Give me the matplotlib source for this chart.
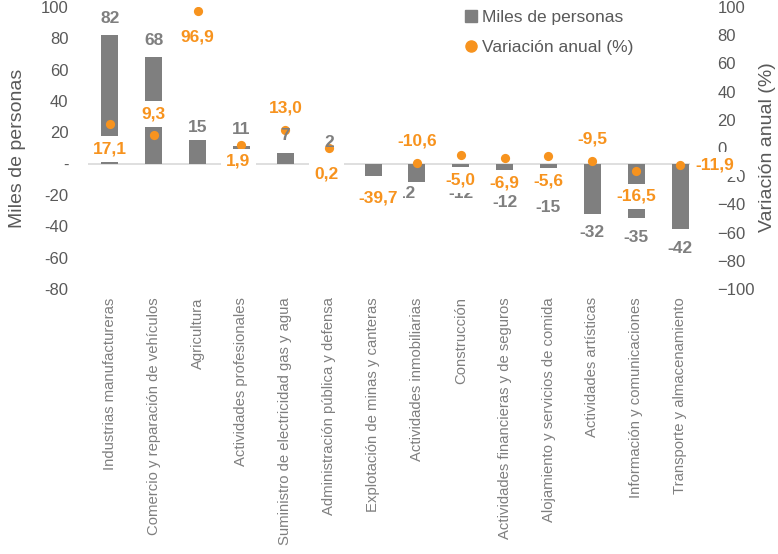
import matplotlib.pyplot as plt
from matplotlib.lines import Line2D

plt.rcParams['font.family'] = ['Liberation Sans', 'DejaVu Sans']

# Data
sectores = ["Industrias manufactureras", "Comercio y reparación de vehículos", "Agricultura",
            "Actividades profesionales", "Suministro de electricidad gas y agua",
            "Administración pública y defensa", "Explotación de minas y canteras",
            "Actividades inmobiliarias", "Construcción", "Actividades financieras y de seguros",
            "Alojamiento y servicios de comida", "Actividades artísticas",
            "Información y comunicaciones", "Transporte y almacenamiento"]
miles = [82, 68, 15, 11, 7, 2, -8, -12, -12, -12, -15, -32, -35, -42]
variacion = [17.1, 9.3, 96.9, 1.9, 13.0, 0.2, -39.7, -10.6, -5.0, -6.9, -5.6, -9.5, -16.5, -11.9]

# Label offsets in pixels (dx right, dy down), as placed in the original
gris_off = [(0, -17), (0, -17), (0, -13), (0, -17), (0, -17), (0, -18), (0, 17), (-14, 11),
            (0, 11), (0, 20), (0, 20), (0, 19), (0, 19), (0, 19)]
naranja_off = [(0, 25), (0, -21), (0, 26), (-3, 16), (0, -22), (-3, 26), (5, -6), (0, -22),
               (0, 25), (0, 25), (0, 25), (0, -22), (0, 25), (35, 0)]

gris = '#7F7F7F'
naranja = '#F7931E'
texto = '#595959'
pt = 0.72  # points per pixel at dpi 100

fig = plt.figure(figsize=(7.78, 5.54), dpi=100)
ax = fig.add_axes([88/778, 1 - 289/554, 614/778, 282/554])
ax2 = ax.twinx()

x = list(range(len(sectores)))
ax.axhline(0, color='#D9D9D9', lw=1.2, zorder=1)
ax.bar(x, miles, width=0.39, color=gris, zorder=2)
ax2.scatter(x, variacion, s=44, color=naranja, zorder=3, linewidths=0)

ax.set_xlim(-0.5, len(sectores) - 0.5)
ax.set_ylim(-80, 100)
ax2.set_ylim(-100, 100)

yt = list(range(-80, 101, 20))
ax.set_yticks(yt)
ax.set_yticklabels(['-' if v == 0 else str(v) for v in yt])
ax2.set_yticks(list(range(-100, 101, 20)))
ax.tick_params(axis='y', length=0, labelsize=12, labelcolor=texto, pad=14)
ax2.tick_params(axis='y', length=0, labelsize=12, labelcolor=texto, pad=11)
ax.set_xticks(x)
ax.set_xticklabels(sectores, rotation=90, fontsize=10.7, color=gris)
ax.tick_params(axis='x', length=0, pad=6)

for a in (ax, ax2):
    for s in a.spines.values():
        s.set_visible(False)

# gray value labels (no box)
for i, v in enumerate(miles):
    dx, dy = gris_off[i]
    ax2.annotate(str(v), (i, v), xycoords=ax.transData, textcoords='offset points',
                 xytext=(dx * pt, -dy * pt), ha='center', va='center', fontsize=12.5,
                 fontweight='bold', color=gris, zorder=5)

# orange value labels with white boxes
for i, v in enumerate(variacion):
    dx, dy = naranja_off[i]
    ax2.annotate(f"{v:.1f}".replace('.', ','), (i, v), textcoords='offset points',
                 xytext=(dx * pt, -dy * pt), ha='center', va='center', fontsize=12.5,
                 fontweight='bold', color=naranja, zorder=6,
                 bbox=dict(boxstyle='square,pad=0.3', fc='white', ec='none'))

fig.text(18/778, 1 - 148/554, 'Miles de personas', rotation=90, ha='center', va='center',
         fontsize=14, color=texto)
fig.text(768/778, 1 - 147/554, 'Variación anual (%)', rotation=90, ha='center', va='center',
         fontsize=14, color=texto)

handles = [Line2D([], [], ls='none', marker='s', ms=9, color=gris),
           Line2D([], [], ls='none', marker='o', ms=8, color=naranja)]
leg = ax2.legend(handles, ['Miles de personas', 'Variación anual (%)'], loc='upper left',
                 bbox_to_anchor=(466/778, 1 - 10/554), bbox_transform=fig.transFigure,
                 frameon=False, fontsize=12.5, handlelength=0.6, handletextpad=0.3,
                 labelspacing=0.85, borderpad=0, borderaxespad=0)
for t in leg.get_texts():
    t.set_color(texto)

fig.savefig('out.png', dpi=100)
